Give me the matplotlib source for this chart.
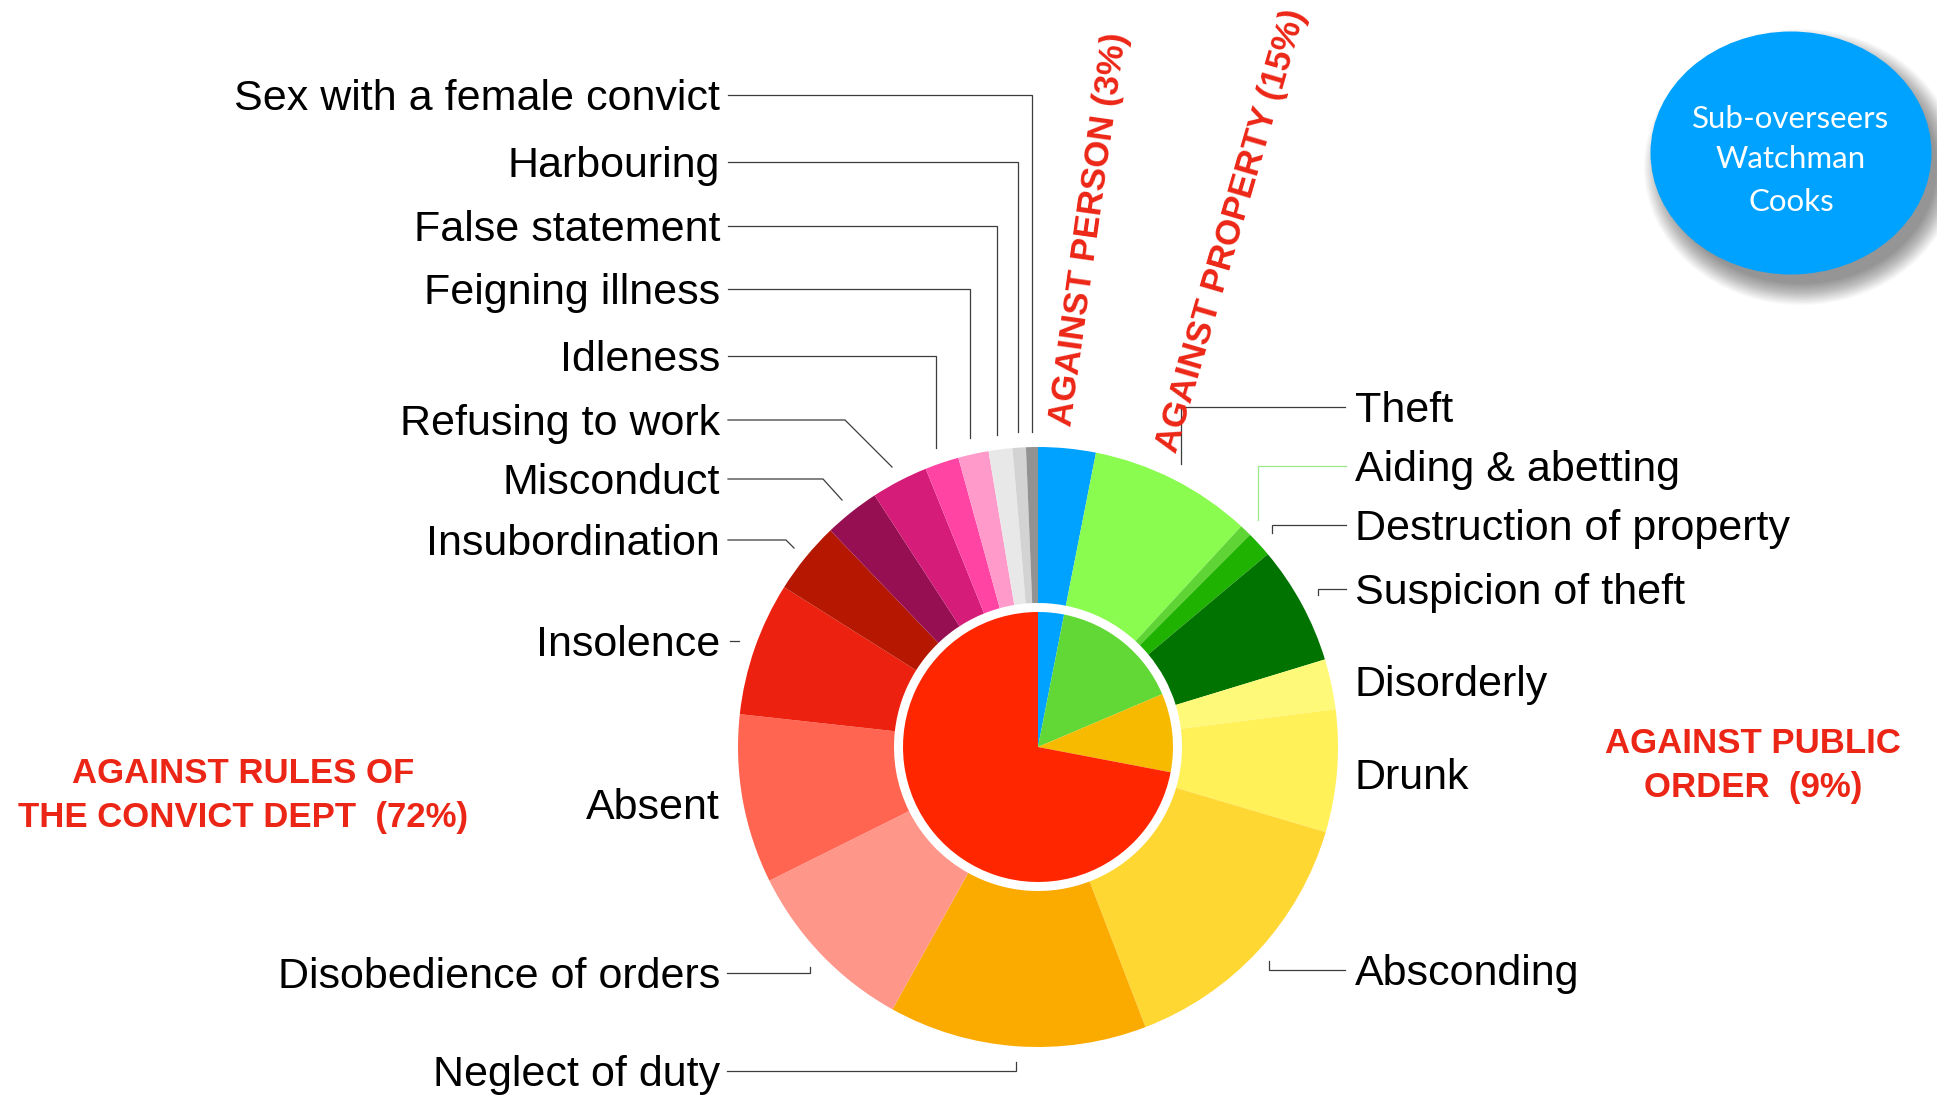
import matplotlib
matplotlib.use('Agg')
import matplotlib.pyplot as plt
from matplotlib.patches import Ellipse

W, H = 1937, 1097

# ---------------- data ----------------
inner_labels = ['AGAINST PERSON', 'AGAINST PROPERTY', 'AGAINST PUBLIC ORDER',
                'AGAINST RULES OF THE CONVICT DEPT']
inner_values = [3.1, 15.5, 9.4, 72.0]
inner_colors = ['#00a2ff', '#61d836', '#f8ba00', '#ff2600']

outer_labels = ['Against person', 'Theft', 'Aiding & abetting', 'Destruction of property',
                'Suspicion of theft', 'Disorderly', 'Drunk', 'Absconding',
                'Neglect of duty', 'Disobedience of orders', 'Absent', 'Insolence',
                'Insubordination', 'Misconduct', 'Refusing to work', 'Idleness',
                'Feigning illness', 'False statement', 'Harbouring',
                'Sex with a female convict']
outer_values = [3.1, 8.75, 0.65, 1.4, 6.4, 2.7, 6.6, 14.6, 13.9, 9.6, 9.1, 7.2,
                3.9, 3.0, 3.06, 1.83, 1.64, 1.28, 0.72, 0.64]
outer_colors = ['#00a2ff', '#8afb4f', '#5fd435', '#20b200', '#007300', '#fff97a',
                '#fff157', '#ffd733', '#fbab00', '#ff968a', '#ff6550', '#ec2110',
                '#b51700', '#960f52', '#d41c78', '#ff44a3', '#ff9acb', '#e8e8e8',
                '#d3d3d3', '#929292']

category_texts = ['AGAINST PERSON (3%)', 'AGAINST PROPERTY (15%)',
                  ['AGAINST PUBLIC', 'ORDER  (9%)'],
                  ['AGAINST RULES OF', 'THE CONVICT DEPT  (72%)']]
bubble_lines = ['Sub-overseers', 'Watchman', 'Cooks']

# ---------------- layout (pixel coords, y down) ----------------
CX, CY = 1038, 747
R_OUT, R_RING_IN, R_IN = 300, 144, 135

left_layout = {
    'Sex with a female convict': (94.7, [(728, 94.7), (1031.7, 94.7), (1031.7, 432)]),
    'Harbouring': (161.7, [(728, 161.7), (1018, 161.7), (1018, 432)]),
    'False statement': (225.7, [(728, 225.7), (997, 225.7), (997, 435)]),
    'Feigning illness': (289.3, [(728, 289.3), (970, 289.3), (970, 438)]),
    'Idleness': (356, [(728, 356), (935.5, 356), (935.5, 448)]),
    'Refusing to work': (420, [(728, 420), (845, 420), (892, 467)]),
    'Misconduct': (479, [(728, 479), (823, 479), (842, 500)]),
    'Insubordination': (540, [(728, 540), (786, 540), (794, 548)]),
    'Insolence': (641, [(729.6, 641), (739, 641)]),
    'Absent': (804, None),
    'Disobedience of orders': (972.5, [(727, 972.5), (809.5, 972.5), (809.5, 966.5)]),
    'Neglect of duty': (1071, [(727, 1071), (1015.5, 1071), (1015.5, 1062)]),
}
right_layout = {
    'Theft': (407, [(1345, 407), (1181, 407), (1181, 464)]),
    'Aiding & abetting': (466, [(1346, 466), (1258, 466), (1258, 520)]),
    'Destruction of property': (525, [(1346, 525), (1271.5, 525), (1271.5, 533)]),
    'Suspicion of theft': (589, [(1346, 589), (1317.5, 589), (1317.5, 595)]),
    'Disorderly': (681, None),
    'Drunk': (774, None),
    'Absconding': (970, [(1345, 970), (1268.5, 970), (1268.5, 961)]),
}


def Y(y):
    return H - y


fig = plt.figure(figsize=(W / 100, H / 100), dpi=100)
ax = fig.add_axes([0, 0, 1, 1])

# outer ring
ax.pie(outer_values, colors=outer_colors, radius=R_OUT, center=(CX, Y(CY)),
       startangle=90, counterclock=False,
       wedgeprops=dict(width=R_OUT - R_RING_IN, linewidth=0, antialiased=True))
# inner pie
ax.pie(inner_values, colors=inner_colors, radius=R_IN, center=(CX, Y(CY)),
       startangle=90, counterclock=False,
       wedgeprops=dict(linewidth=0, antialiased=True))

ax.set_xlim(0, W)
ax.set_ylim(0, H)
ax.set_aspect('equal')
ax.axis('off')

LABEL_FONT = 'Liberation Sans'
FS = 31
line_color = '#3c3c3c'

for lab in outer_labels:
    if lab in left_layout:
        ly, pts = left_layout[lab]
        ax.text(720, Y(ly + 15), lab, ha='right', va='baseline',
                fontsize=FS, family=LABEL_FONT, color='black')
    elif lab in right_layout:
        ly, pts = right_layout[lab]
        ax.text(1355, Y(ly + 15), lab, ha='left', va='baseline',
                fontsize=FS, family=LABEL_FONT, color='black')
    else:
        continue
    if pts:
        col = '#9be88a' if lab == 'Aiding & abetting' else line_color
        ax.plot([p[0] for p in pts], [Y(p[1]) for p in pts], color=col,
                lw=0.9, solid_joinstyle='miter')

# category labels (red)
RED = '#ec2616'
CFS = 25
ax.text(1089, Y(229), category_texts[0], rotation=82, rotation_mode='anchor',
        ha='center', va='center', fontsize=CFS, fontweight='bold',
        family=LABEL_FONT, color=RED)
ax.text(1232, Y(231), category_texts[1], rotation=73.7, rotation_mode='anchor',
        ha='center', va='center', fontsize=CFS, fontweight='bold',
        family=LABEL_FONT, color=RED)
for t, by in zip(category_texts[2], [753, 797]):
    ax.text(1753, Y(by), t, ha='center', va='baseline', fontsize=CFS,
            fontweight='bold', family=LABEL_FONT, color=RED)
for t, by in zip(category_texts[3], [783, 827]):
    ax.text(243, Y(by), t, ha='center', va='baseline', fontsize=CFS,
            fontweight='bold', family=LABEL_FONT, color=RED)

# bubble with soft shadow
BX, BY, BW, BH = 1791, 153, 281, 243
for k in range(30):
    grow = k * 1.5
    ax.add_patch(Ellipse((BX + 10, Y(BY + 14)), BW - 10 + grow, BH - 10 + grow,
                         facecolor='black', edgecolor='none', alpha=0.014, zorder=2))
ax.add_patch(Ellipse((BX, Y(BY)), BW, BH, facecolor='#00a2ff',
                     edgecolor='none', zorder=3))
for t, by in zip(bubble_lines, [128, 168, 211]):
    ax.text(BX, Y(by), t, ha='center', va='baseline', fontsize=22.5,
            family='Lato', color='white', zorder=4)

fig.savefig('out.png', dpi=100, facecolor='white')
